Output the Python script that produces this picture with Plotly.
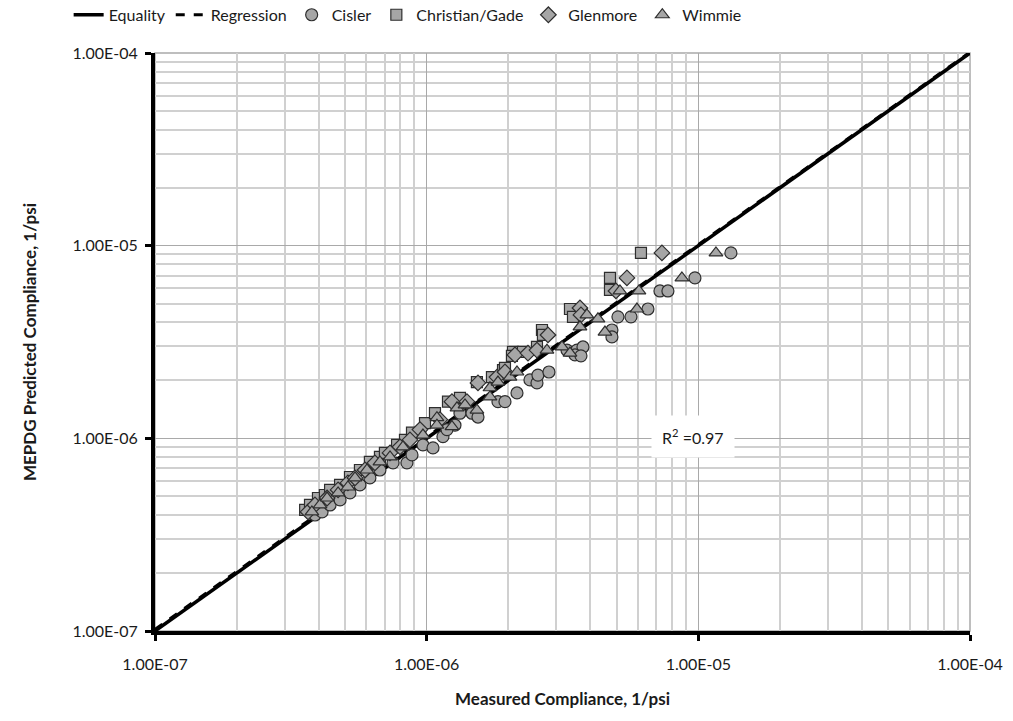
import plotly.graph_objects as go

# ---------------- data ----------------
equality_x = [1e-7, 1e-4]
equality_y = [1e-7, 1e-4]
regression_x = [1e-7, 1e-4]
regression_y = [1.02e-7, 1.01e-4]

cisler_x = [3.88e-7, 4.12e-7, 4.41e-7, 4.80e-7, 5.22e-7, 5.68e-7, 6.18e-7, 6.73e-7, 7.52e-7, 8.46e-7,
            8.83e-7, 9.69e-7, 1.055e-6, 1.148e-6, 1.271e-6, 1.188e-6, 1.326e-6, 1.468e-6, 1.545e-6, 1.830e-6,
            1.942e-6, 2.150e-6, 2.400e-6, 2.547e-6, 2.568e-6, 2.819e-6, 3.284e-6, 3.575e-6, 3.761e-6, 3.515e-6,
            3.698e-6, 4.808e-6, 4.808e-6, 5.059e-6, 5.649e-6, 6.524e-6, 7.223e-6, 7.728e-6, 9.716e-6, 1.318e-5]
cisler_y = [4.00e-7, 4.15e-7, 4.51e-7, 4.79e-7, 5.21e-7, 5.73e-7, 6.23e-7, 6.85e-7, 7.46e-7, 7.46e-7,
            8.20e-7, 9.24e-7, 8.92e-7, 1.02e-6, 1.17e-6, 1.11e-6, 1.35e-6, 1.35e-6, 1.29e-6, 1.55e-6,
            1.55e-6, 1.72e-6, 2.01e-6, 1.94e-6, 2.13e-6, 2.21e-6, 2.87e-6, 2.87e-6, 2.98e-6, 2.71e-6,
            2.68e-6, 3.65e-6, 3.36e-6, 4.27e-6, 4.27e-6, 4.69e-6, 5.82e-6, 5.82e-6, 6.80e-6, 9.17e-6]

gade_x = [3.57e-7, 3.72e-7, 3.98e-7, 4.22e-7, 4.41e-7, 4.80e-7, 5.22e-7, 5.68e-7, 6.18e-7, 6.73e-7,
          7.02e-7, 7.78e-7, 8.32e-7, 8.83e-7, 9.86e-7, 1.073e-6, 1.198e-6, 1.326e-6, 1.531e-6, 1.739e-6,
          1.910e-6, 1.942e-6, 2.078e-6, 2.060e-6, 2.261e-6, 2.547e-6, 2.657e-6, 2.679e-6, 3.369e-6, 3.456e-6,
          4.729e-6, 4.729e-6, 6.149e-6]
gade_y = [4.25e-7, 4.51e-7, 4.90e-7, 5.08e-7, 5.40e-7, 5.73e-7, 6.30e-7, 6.85e-7, 7.54e-7, 8.01e-7,
          8.40e-7, 9.24e-7, 9.81e-7, 1.07e-6, 1.20e-6, 1.35e-6, 1.55e-6, 1.62e-6, 1.96e-6, 2.08e-6,
          2.26e-6, 2.32e-6, 2.81e-6, 2.68e-6, 2.81e-6, 2.98e-6, 3.65e-6, 3.44e-6, 4.69e-6, 4.27e-6,
          5.89e-6, 6.80e-6, 9.17e-6]

glenmore_x = [3.66e-7, 3.88e-7, 4.30e-7, 4.72e-7, 5.13e-7, 5.45e-7, 5.93e-7, 6.45e-7, 7.33e-7, 7.98e-7,
              8.68e-7, 9.45e-7, 1.119e-6, 1.239e-6, 1.407e-6, 1.545e-6, 1.815e-6, 1.942e-6, 2.113e-6, 2.360e-6,
              2.547e-6, 2.796e-6, 3.667e-6, 3.698e-6, 4.974e-6, 5.460e-6, 7.345e-6]
glenmore_y = [4.15e-7, 4.51e-7, 4.90e-7, 5.40e-7, 5.87e-7, 6.23e-7, 6.85e-7, 7.46e-7, 8.40e-7, 9.03e-7,
              9.81e-7, 1.11e-6, 1.25e-6, 1.55e-6, 1.55e-6, 1.94e-6, 2.08e-6, 2.21e-6, 2.71e-6, 2.77e-6,
              2.87e-6, 3.44e-6, 4.75e-6, 4.37e-6, 5.82e-6, 6.80e-6, 9.17e-6]

wimmie_x = [3.78e-7, 4.05e-7, 4.30e-7, 4.72e-7, 5.13e-7, 5.45e-7, 6.03e-7, 6.73e-7, 7.33e-7, 8.18e-7,
            9.69e-7, 1.091e-6, 1.091e-6, 1.239e-6, 1.293e-6, 1.384e-6, 1.531e-6, 1.710e-6, 1.710e-6, 1.830e-6,
            2.026e-6, 2.150e-6, 2.772e-6, 3.148e-6, 3.369e-6, 3.667e-6, 3.890e-6, 4.271e-6, 4.532e-6, 5.146e-6,
            6.045e-6, 5.943e-6, 8.700e-6, 1.161e-5]
wimmie_y = [4.15e-7, 4.51e-7, 4.90e-7, 5.21e-7, 5.59e-7, 6.23e-7, 6.85e-7, 7.54e-7, 8.01e-7, 9.03e-7,
            1.04e-6, 1.28e-6, 1.17e-6, 1.15e-6, 1.44e-6, 1.49e-6, 1.40e-6, 1.83e-6, 1.64e-6, 1.96e-6,
            2.08e-6, 2.21e-6, 2.87e-6, 2.98e-6, 2.77e-6, 3.79e-6, 4.37e-6, 4.17e-6, 3.56e-6, 5.82e-6,
            5.82e-6, 4.69e-6, 6.80e-6, 9.17e-6]

tick_vals = [1e-7, 1e-6, 1e-5, 1e-4]
tick_text = ["1.00E-07", "1.00E-06", "1.00E-05", "1.00E-04"]
r2_text = "R<sup>2</sup> =0.97"

# ---------------- style ----------------
FONT = "Lato, 'Open Sans', sans-serif"
TXT = "#1a1a1a"
fill = "#a6a6a6"
edge = "#2e2e2e"
minor_vals = [m * 10 ** e for e in (-7, -6, -5) for m in range(2, 10)]

fig = go.Figure()
fig.add_trace(go.Scatter(x=equality_x, y=equality_y, mode="lines", name="Equality",
                         line=dict(color="black", width=3.5)))
fig.add_trace(go.Scatter(x=regression_x, y=regression_y, mode="lines", name="Regression",
                         line=dict(color="black", width=3, dash="dash")))

def add_pts(xs, ys, name, symbol, size):
    fig.add_trace(go.Scatter(x=xs, y=ys, mode="markers", name=name,
                             marker=dict(symbol=symbol, size=size, color=fill,
                                         line=dict(color=edge, width=1.2))))

add_pts(cisler_x, cisler_y, "Cisler", "circle", 12)
add_pts(gade_x, gade_y, "Christian/Gade", "square", 11)
add_pts(glenmore_x, glenmore_y, "Glenmore", "diamond", 12)
add_pts(wimmie_x, wimmie_y, "Wimmie", "triangle-up", 12)

axis_common = dict(
    type="log", range=[-7, -4], tickvals=tick_vals, ticktext=tick_text,
    showgrid=True, gridcolor="#a9a9a9", gridwidth=1,
    minor=dict(tickvals=minor_vals, showgrid=True, gridcolor="#d0d0d0", gridwidth=1.5, ticks=""),
    showline=True, linecolor="black", linewidth=4,
    ticks="outside", ticklen=6, tickwidth=3, tickcolor="black",
    tickfont=dict(family=FONT, size=16, color=TXT),
    zeroline=False,
)

fig.update_xaxes(**axis_common, ticklabelstandoff=10,
                 title=dict(text="<b>Measured Compliance, 1/psi</b>", standoff=22,
                            font=dict(family=FONT, size=17, color=TXT)))
fig.update_yaxes(**axis_common, ticklabelstandoff=4,
                 title=dict(text="<b>MEPDG Predicted Compliance, 1/psi</b>", standoff=32,
                            font=dict(family=FONT, size=17, color=TXT)))

fig.add_shape(type="rect", xref="paper", yref="paper", x0=0, y0=0, x1=1, y1=1,
              line=dict(color="#a9a9a9", width=1.5), layer="below")

fig.add_annotation(text=r2_text, xref="paper", yref="paper", x=0.66, y=0.336,
                   showarrow=False, bgcolor="white", borderpad=10,
                   font=dict(family=FONT, size=16, color=TXT))

fig.update_layout(
    width=1013, height=721,
    margin=dict(l=155, r=43, t=53, b=90, autoexpand=False),
    paper_bgcolor="white", plot_bgcolor="white",
    font=dict(family=FONT, size=15, color=TXT),
    showlegend=True,
    legend=dict(orientation="h", x=0.31, xanchor="center", y=1.066, yanchor="middle",
                font=dict(family=FONT, size=16, color=TXT),
                itemwidth=30, bgcolor="rgba(0,0,0,0)", traceorder="normal"),
)

fig.write_html("out.html")
